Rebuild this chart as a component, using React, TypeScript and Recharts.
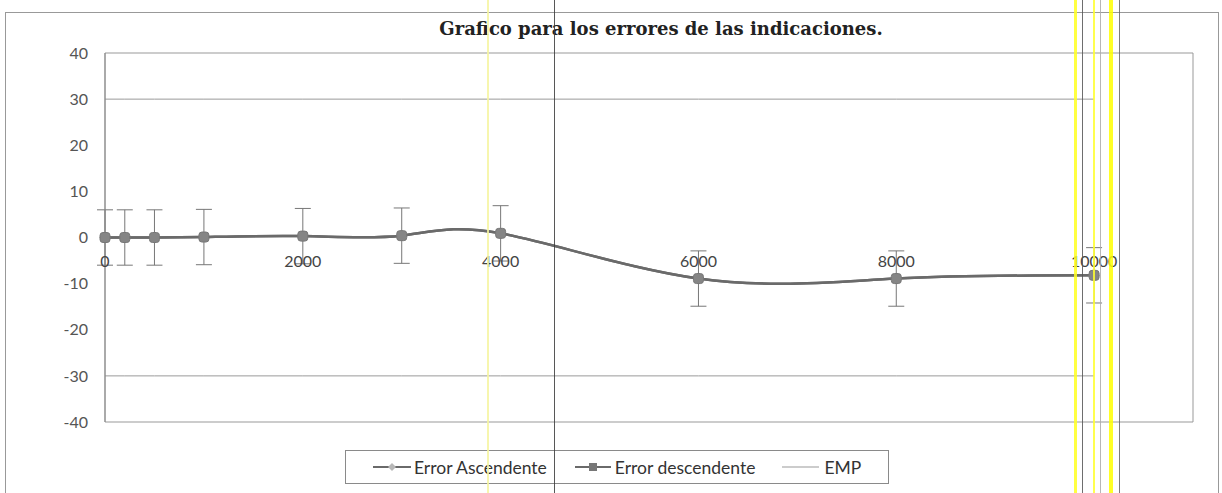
import React from 'react';
import {
  ErrorBar,
  Legend,
  Line,
  LineChart,
  ReferenceArea,
  XAxis,
  YAxis,
} from 'recharts';

// readings
const indications = [0, 200, 500, 1000, 2000, 3000, 4000, 6000, 8000, 10000];
const errorAsc = [0, 0, 0, 0.1, 0.3, 0.4, 0.9, -8.9, -8.9, -8.2];
const errorDesc = [0, 0, 0, 0.1, 0.3, 0.4, 0.9, -8.9, -8.9, -8.2];
const uncertainty = [6, 6, 6, 6, 6, 6, 6, 6, 6, 6];
const empUpper = [30, 30, 30, 30, 30, 30, 30, 30, 30, 30];
const empLower = [-30, -30, -30, -30, -30, -30, -30, -30, -30, -30];
const xTicks = [0, 2000, 4000, 6000, 8000, 10000];
const yTicks = [-40, -30, -20, -10, 0, 10, 20, 30, 40];

const data = indications.map((x, i) => ({
  x,
  asc: errorAsc[i],
  desc: errorDesc[i],
  u: uncertainty[i],
  emp: empUpper[i],
  empNeg: empLower[i],
}));

const W = 1222;
const H = 493;
const margin = { top: 53, right: 29, bottom: 61, left: 0 };
const xAxisH = 10;
const plotH = H - margin.top - margin.bottom - xAxisH;
const zeroY = margin.top + plotH / 2;

const lineGray = '#6a6a6a';
const font = 'Lato, "Noto Sans", sans-serif';

const Diamond = (p: any) => {
  if (p.cx == null || p.cy == null) return null;
  const r = 5;
  return (
    <polygon
      key={`d-${p.index}`}
      points={`${p.cx},${p.cy - r} ${p.cx + r},${p.cy} ${p.cx},${p.cy + r} ${p.cx - r},${p.cy}`}
      fill="#a8a8a8"
      stroke="#8c8c8c"
    />
  );
};

const Square = (p: any) => {
  if (p.cx == null || p.cy == null) return null;
  return (
    <rect key={`s-${p.index}`} x={p.cx - 5} y={p.cy - 5} width={10} height={10} rx={3} fill="#858585" stroke="#777" />
  );
};

// x labels sit on the y=0 crossing, like the Excel original
const ZeroTick = (p: any) => (
  <text x={p.x} y={zeroY + 29} textAnchor="middle" fill="#444" fontSize={16} fontFamily={font}>
    {p.payload.value}
  </text>
);

const LegendBox = () => (
  <div
    style={{
      border: '1px solid #8a8a8a',
      width: 544,
      height: 34,
      boxSizing: 'border-box',
      display: 'flex',
      alignItems: 'center',
      fontFamily: font,
      fontSize: 17.5,
      color: '#333',
      paddingLeft: 27,
      whiteSpace: 'nowrap',
    }}
  >
    <svg width={38} height={12}>
      <line x1={0} y1={6} x2={38} y2={6} stroke={lineGray} strokeWidth={2} />
      <polygon points="19,2 23,6 19,10 15,6" fill="#b8b8b8" />
    </svg>
    <span style={{ marginLeft: 3, marginRight: 28 }}>Error Ascendente</span>
    <svg width={36} height={12}>
      <line x1={0} y1={6} x2={36} y2={6} stroke={lineGray} strokeWidth={2} strokeDasharray="8 0 36 0" />
      <rect x={14} y={2} width={8} height={8} fill="#777" />
    </svg>
    <span style={{ marginLeft: 4, marginRight: 27 }}>Error descendente</span>
    <svg width={37} height={12}>
      <line x1={0} y1={6} x2={37} y2={6} stroke="#999" strokeWidth={1} />
    </svg>
    <span style={{ marginLeft: 5 }}>EMP</span>
  </div>
);

const scanLines = [
  { left: 487, width: 2, color: '#f6f4a0' },
  { left: 554, width: 1, color: '#3a3a3a' },
  { left: 1074, width: 3, color: '#ffff20' },
  { left: 1082, width: 1, color: '#555' },
  { left: 1093, width: 2, color: '#ffff30' },
  { left: 1100, width: 1, color: '#aaa' },
  { left: 1109, width: 4, color: '#ffff00' },
  { left: 1119, width: 1, color: '#666' },
];

export default function App() {
  return (
    <div style={{ position: 'absolute', left: 0, top: 0, width: W, height: H, background: '#fff', overflow: 'hidden' }}>
      <div
        style={{
          position: 'absolute',
          left: 5,
          top: 12,
          width: 1212,
          height: 490,
          border: '1px solid #999',
        }}
      />
      <div
        style={{
          position: 'absolute',
          left: 0,
          top: 18,
          width: 1322,
          textAlign: 'center',
          fontFamily: '"DejaVu Serif", serif',
          fontWeight: 'bold',
          fontSize: 18,
          color: '#222',
        }}
      >
        Grafico para los errores de las indicaciones.
      </div>
      <div style={{ position: 'absolute', left: 0, top: 0 }}>
        <LineChart width={W} height={H} data={data} margin={margin}>
          <ReferenceArea x1={0} x2={11000} y1={-40} y2={40} fill="none" stroke="#999" strokeWidth={1} ifOverflow="visible" />
          <XAxis
            dataKey="x"
            type="number"
            domain={[0, 11000]}
            ticks={xTicks}
            axisLine={false}
            tickLine={false}
            tick={ZeroTick}
            height={xAxisH}
            interval={0}
          />
          <YAxis
            type="number"
            domain={[-40, 40]}
            ticks={yTicks}
            width={105}
            tickSize={0}
            tickMargin={17}
            tickLine={false}
            axisLine={{ stroke: '#888' }}
            tick={{ fill: '#555', fontSize: 16, fontFamily: font }}
          />
          <Legend
            layout="vertical"
            align="center"
            verticalAlign="middle"
            content={<LegendBox />}
            wrapperStyle={{ top: 450, left: 345, width: 544 }}
          />
          <Line dataKey="emp" name="EMP" stroke="#9a9a9a" strokeWidth={1} dot={false} isAnimationActive={false} />
          <Line dataKey="empNeg" name="EMP-" legendType="none" stroke="#9a9a9a" strokeWidth={1} dot={false} isAnimationActive={false} />
          <Line
            dataKey="asc"
            name="Error Ascendente"
            type="natural"
            stroke={lineGray}
            strokeWidth={2.5}
            dot={Diamond}
            isAnimationActive={false}
          >
            <ErrorBar dataKey="u" direction="y" width={8} stroke="#777" strokeWidth={1} isAnimationActive={false} />
          </Line>
          <Line
            dataKey="desc"
            name="Error descendente"
            type="natural"
            stroke={lineGray}
            strokeWidth={2.5}
            dot={Square}
            isAnimationActive={false}
          />
        </LineChart>
      </div>
      {scanLines.map((l) => (
        <div
          key={l.left}
          style={{ position: 'absolute', left: l.left, top: 0, width: l.width, height: H, background: l.color, opacity: 0.85 }}
        />
      ))}
    </div>
  );
}
